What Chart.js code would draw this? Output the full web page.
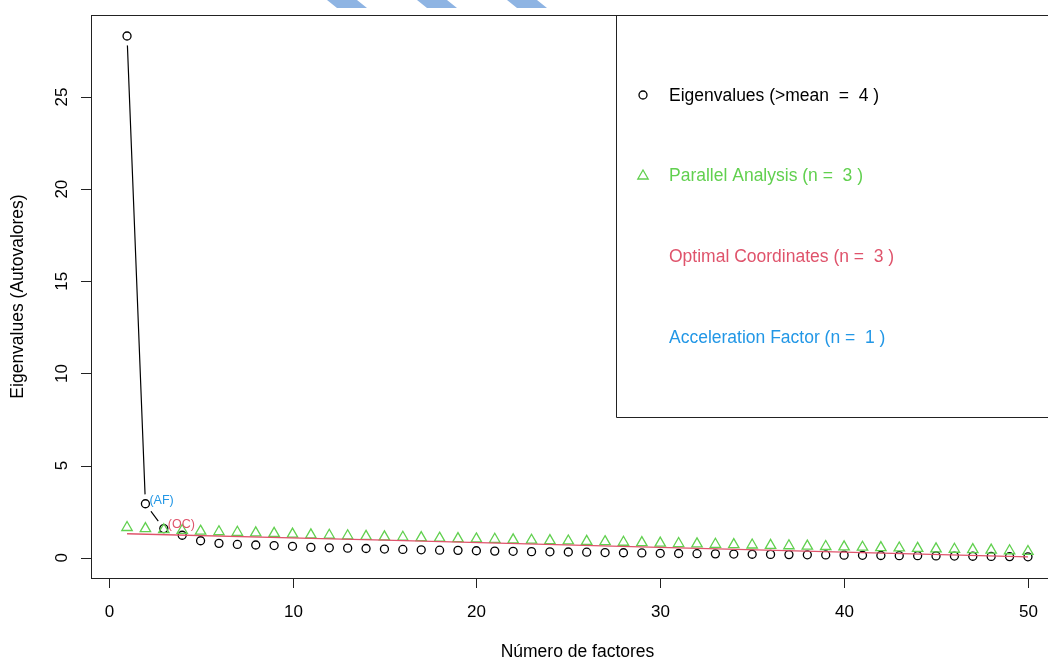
<!DOCTYPE html>
<html>
<head>
<meta charset="utf-8">
<script src="https://cdn.jsdelivr.net/npm/chart.js@4"></script>
<style>
  html, body { margin: 0; padding: 0; background: #fff; overflow: hidden; }
  #wrap { width: 1080px; height: 659px; }
</style>
</head>
<body>
<div id="wrap"><canvas id="scree" width="1080" height="659"></canvas></div>
<script>
// ---------- DATA ----------
const factors = [1, 2, 3, 4, 5, 6, 7, 8, 9, 10, 11, 12, 13, 14, 15, 16, 17, 18, 19, 20,
  21, 22, 23, 24, 25, 26, 27, 28, 29, 30, 31, 32, 33, 34, 35, 36, 37, 38, 39, 40,
  41, 42, 43, 44, 45, 46, 47, 48, 49, 50];

const eigenvalues = [28.31, 2.93, 1.58, 1.22, 0.92, 0.78, 0.72, 0.69, 0.66, 0.62,
  0.56, 0.54, 0.52, 0.50, 0.47, 0.45, 0.43, 0.41, 0.40, 0.38,
  0.36, 0.35, 0.33, 0.32, 0.31, 0.30, 0.28, 0.27, 0.26, 0.24,
  0.23, 0.22, 0.21, 0.20, 0.19, 0.18, 0.17, 0.16, 0.15, 0.14,
  0.13, 0.12, 0.11, 0.11, 0.10, 0.09, 0.08, 0.07, 0.06, 0.05];

const parallel = [1.64, 1.58, 1.52, 1.48, 1.44, 1.41, 1.38, 1.35, 1.32, 1.28,
  1.24, 1.22, 1.19, 1.16, 1.13, 1.11, 1.09, 1.06, 1.04, 1.02,
  1.00, 0.97, 0.95, 0.93, 0.91, 0.89, 0.87, 0.84, 0.82, 0.79,
  0.77, 0.75, 0.73, 0.71, 0.69, 0.67, 0.65, 0.63, 0.61, 0.59,
  0.57, 0.55, 0.53, 0.51, 0.48, 0.46, 0.44, 0.41, 0.38, 0.34];

// optimal coordinates line, read at a few factors
const ocFactors = [1, 11, 15, 31, 50];
const ocValues = [1.30, 1.05, 0.95, 0.54, 0.05];

const afCount = 2; // black line joins the first points (acceleration factor)
const xTicks = [0, 10, 20, 30, 40, 50];
const yTicks = [0, 5, 10, 15, 20, 25];

const legendLabels = [
  "Eigenvalues (>mean  =  4 )",
  "Parallel Analysis (n =  3 )",
  "Optimal Coordinates (n =  3 )",
  "Acceleration Factor (n =  1 )",
];

// ---------- STYLE ----------
const BLACK = "#000000";
const GREEN = "#61D04F";
const RED = "#DF536B";
const BLUE = "#2297E6";
const FONT = '"Liberation Sans", Arial, Helvetica, sans-serif';

const pts = (xs, ys) => xs.map((x, i) => ({ x: x, y: ys[i] }));

// ---------- PLUGINS ----------
// R "type = b" style gaps round the points of the black line
const lineGaps = {
  id: "lineGaps",
  afterDatasetDraw(chart, args) {
    if (args.index !== 0) return;
    const ctx = chart.ctx;
    ctx.save();
    ctx.fillStyle = "#fff";
    args.meta.data.forEach((p) => {
      ctx.beginPath();
      ctx.arc(p.x, p.y, 9.5, 0, Math.PI * 2);
      ctx.fill();
    });
    ctx.restore();
  },
};

const rAxes = {
  id: "rAxes",
  afterDraw(chart) {
    const { ctx, chartArea: a, scales } = chart;
    const xs = scales.x, ys = scales.y;
    ctx.save();

    // stripes at the top edge
    ctx.fillStyle = "#8EB4E3";
    [327, 417, 507].forEach((sx) => {
      ctx.beginPath();
      ctx.moveTo(sx, 0);
      ctx.lineTo(sx + 30, 0);
      ctx.lineTo(sx + 40, 8);
      ctx.lineTo(sx + 10, 8);
      ctx.closePath();
      ctx.fill();
    });

    // box
    ctx.strokeStyle = "#222";
    ctx.lineWidth = 1;
    ctx.strokeRect(Math.round(a.left) + 0.5, Math.round(a.top) + 0.5,
      Math.round(a.right - a.left), Math.round(a.bottom - a.top));

    // x ticks
    ctx.fillStyle = BLACK;
    ctx.font = "17px " + FONT;
    ctx.textAlign = "center";
    ctx.textBaseline = "middle";
    ctx.beginPath();
    xTicks.forEach((t) => {
      const px = Math.round(xs.getPixelForValue(t)) + 0.5;
      ctx.moveTo(px, a.bottom);
      ctx.lineTo(px, a.bottom + 10);
      ctx.fillText(String(t), px, a.bottom + 34);
    });
    // y ticks
    yTicks.forEach((t) => {
      const py = Math.round(ys.getPixelForValue(t)) + 0.5;
      ctx.moveTo(a.left, py);
      ctx.lineTo(a.left - 10, py);
    });
    ctx.stroke();
    yTicks.forEach((t) => {
      const py = ys.getPixelForValue(t);
      ctx.save();
      ctx.translate(a.left - 29, py);
      ctx.rotate(-Math.PI / 2);
      ctx.fillText(String(t), 0, 0);
      ctx.restore();
    });

    // axis titles
    ctx.font = "17.5px " + FONT;
    ctx.fillText("Número de factores", (a.left + a.right) / 2, 652);
    ctx.save();
    ctx.translate(18, (a.top + a.bottom) / 2);
    ctx.rotate(-Math.PI / 2);
    ctx.fillText("Eigenvalues (Autovalores)", 0, 0);
    ctx.restore();

    // (AF) and (OC) labels next to their points
    const circles = chart.getDatasetMeta(1).data;
    ctx.font = "12.5px " + FONT;
    ctx.textAlign = "left";
    ctx.fillStyle = BLUE;
    ctx.fillText("(AF)", circles[1].x + 4, circles[1].y - 3);
    ctx.fillStyle = RED;
    ctx.fillText("(OC)", circles[2].x + 4, circles[2].y - 4);

    // legend
    const lx = 616, ly = Math.round(a.top) + 0.5, lb = 417;
    ctx.strokeStyle = "#222";
    ctx.beginPath();
    ctx.moveTo(a.right + 5, ly);
    ctx.lineTo(lx + 0.5, ly);
    ctx.lineTo(lx + 0.5, lb + 0.5);
    ctx.lineTo(a.right + 5, lb + 0.5);
    ctx.stroke();

    const colors = [BLACK, GREEN, RED, BLUE];
    ctx.font = "17.5px " + FONT;
    legendLabels.forEach((lab, i) => {
      const cy = 96 + i * 80.6;
      ctx.fillStyle = colors[i];
      ctx.fillText(lab, 669, cy);
    });
    ctx.lineWidth = 1.3;
    ctx.strokeStyle = BLACK;
    ctx.beginPath();
    ctx.arc(643, 95, 4, 0, Math.PI * 2);
    ctx.stroke();
    ctx.strokeStyle = GREEN;
    ctx.beginPath();
    const r = 6, cx = 643, cy = 176;
    for (let k = 0; k < 3; k++) {
      const ang = k * 2 * Math.PI / 3;
      const px = cx + Math.sin(ang) * r, py = cy - Math.cos(ang) * r;
      if (k === 0) ctx.moveTo(px, py); else ctx.lineTo(px, py);
    }
    ctx.closePath();
    ctx.stroke();

    ctx.restore();
  },
};

// ---------- CHART ----------
new Chart(document.getElementById("scree"), {
  type: "scatter",
  data: {
    datasets: [
      {
        label: "AF line",
        data: pts(factors.slice(0, afCount + 1), eigenvalues.slice(0, afCount + 1)),
        showLine: true,
        borderColor: BLACK,
        borderWidth: 1.2,
        pointRadius: 0,
        order: 5,
      },
      {
        label: "Eigenvalues",
        data: pts(factors, eigenvalues),
        pointStyle: "circle",
        pointRadius: 4,
        borderColor: BLACK,
        borderWidth: 1.3,
        backgroundColor: "rgba(0,0,0,0)",
        order: 4,
      },
      {
        label: "Parallel Analysis",
        data: pts(factors, parallel),
        pointStyle: "triangle",
        pointRadius: 6,
        borderColor: GREEN,
        borderWidth: 1.3,
        backgroundColor: "rgba(0,0,0,0)",
        order: 3,
      },
      {
        label: "Optimal Coordinates",
        data: pts(ocFactors, ocValues),
        showLine: true,
        borderColor: RED,
        borderWidth: 1.3,
        pointRadius: 0,
        order: 2,
      },
    ],
  },
  options: {
    responsive: false,
    animation: false,
    layout: { padding: { left: 91, right: 16, top: 15, bottom: 81 } },
    plugins: { legend: { display: false }, tooltip: { enabled: false } },
    scales: {
      x: { type: "linear", min: -0.96, max: 51.96, display: false },
      y: { type: "linear", min: -1.1, max: 29.45, display: false },
    },
  },
  plugins: [lineGaps, rAxes],
});
</script>
</body>
</html>
